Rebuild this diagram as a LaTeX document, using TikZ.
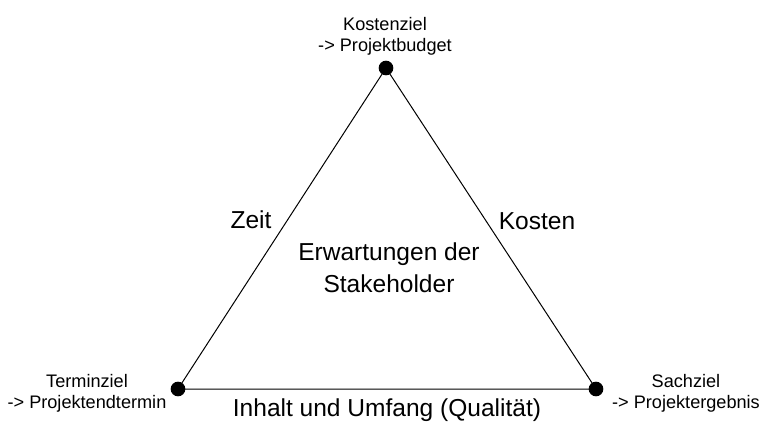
\documentclass[tikz,border=0pt]{standalone}
\usepackage{fontspec}
\setmainfont{Liberation Sans}
\begin{document}
\begin{tikzpicture}[x=0.75pt,y=-0.75pt,
  vdot/.style={circle,fill=black,inner sep=0pt,minimum size=11pt},
  edge/.style={draw=black,line width=0.75pt},
  small/.style={font=\fontsize{13.6}{15.75}\selectfont,align=center,inner sep=0pt},
  big/.style={font=\fontsize{18.4}{24}\selectfont,align=center,inner sep=0pt}]
\useasboundingbox (0,0) rectangle (772,428);
\node[vdot] (top) at (386,68) {};
\node[vdot] (bl) at (178,389) {};
\node[vdot] (br) at (596,389) {};
\draw[edge] (top.center) -- (bl.center) -- (br.center) -- cycle;
\node[small] (kz) at (385,36) {Kostenziel\\-> Projektbudget};
\node[small] (tz) at (87,393) {Terminziel\\-> Projektendtermin};
\node[small] (sz) at (686,393) {Sachziel\\-> Projektergebnis};
\node[big] (zeit) at (251,220) {Zeit};
\node[big] (kosten) at (537,221) {Kosten};
\node[big] (erw) at (389,268) {Erwartungen der\\Stakeholder};
\node[big] (inh) at (387,410) {Inhalt und Umfang (Qualität)};
\end{tikzpicture}
\end{document}
